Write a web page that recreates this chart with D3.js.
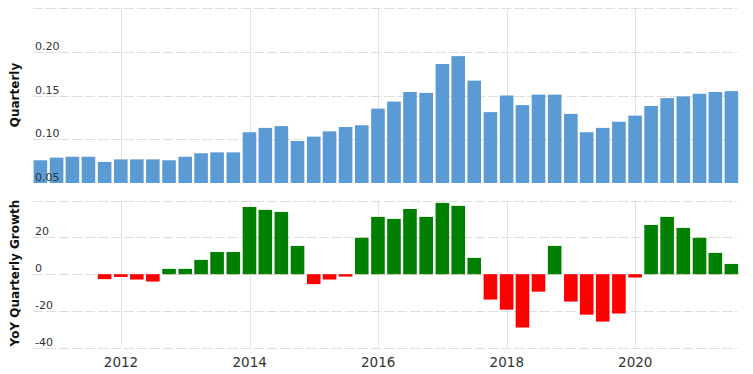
<!DOCTYPE html>
<html>
<head>
<meta charset="utf-8">
<script src="https://cdn.jsdelivr.net/npm/d3@7"></script>
<style>
  body { margin: 0; background: #fff; }
  svg { display: block; font-family: "DejaVu Sans", Verdana, sans-serif; }
</style>
</head>
<body>
<script>
// quarter end dates
var quarters = [
  '2010-09-30', '2010-12-31',
  '2011-03-31', '2011-06-30', '2011-09-30', '2011-12-31',
  '2012-03-31', '2012-06-30', '2012-09-30', '2012-12-31',
  '2013-03-31', '2013-06-30', '2013-09-30', '2013-12-31',
  '2014-03-31', '2014-06-30', '2014-09-30', '2014-12-31',
  '2015-03-31', '2015-06-30', '2015-09-30', '2015-12-31',
  '2016-03-31', '2016-06-30', '2016-09-30', '2016-12-31',
  '2017-03-31', '2017-06-30', '2017-09-30', '2017-12-31',
  '2018-03-31', '2018-06-30', '2018-09-30', '2018-12-31',
  '2019-03-31', '2019-06-30', '2019-09-30', '2019-12-31',
  '2020-03-31', '2020-06-30', '2020-09-30', '2020-12-31',
  '2021-03-31', '2021-06-30'
];

var quarterly = [
  0.076, 0.079, 0.080, 0.080,
  0.074, 0.077, 0.077, 0.077,
  0.076, 0.080, 0.084, 0.085,
  0.085, 0.108, 0.113, 0.115,
  0.098, 0.103, 0.109, 0.114,
  0.116, 0.135, 0.143, 0.154,
  0.153, 0.186, 0.195, 0.167,
  0.131, 0.150, 0.139, 0.151,
  0.151, 0.129, 0.108, 0.113,
  0.120, 0.127, 0.138, 0.147,
  0.149, 0.152, 0.154, 0.155
];

// YoY growth, %
var growth = [
  null, null, null, null,
  -2.7, -1.5, -2.9, -4.0,
  2.9, 2.9, 7.8, 12.1,
  12.1, 36.6, 35.0, 33.9,
  15.4, -5.4, -2.9, -1.3,
  19.8, 31.2, 30.1, 35.5,
  31.2, 38.8, 37.2, 8.9,
  -13.8, -19.3, -29.0, -9.5,
  15.4, -14.9, -22.0, -25.8,
  -21.4, -1.8, 26.8, 31.2,
  25.2, 19.8, 11.6, 5.6
];

var topTicks = [0.05, 0.10, 0.15, 0.20];
var topGrid = [0.10, 0.15, 0.20, 0.25];
var growthTicks = [-40, -20, 0, 20];
var growthGrid = [-40, -20, 0, 20, 40];
var yearTicks = ['2012', '2014', '2016', '2018', '2020'];

var w = 753;
var h = 374;
var left = 33, right = 740, gridRight = 737;
var barW = 13.6;

var parse = d3.timeParse('%Y-%m-%d');

var topData = quarters.map(function(q, i) {
  return {date: parse(q), value: quarterly[i]};
});
var growthData = [];
quarters.forEach(function(q, i) {
  if (growth[i] !== null) {
    growthData.push({date: parse(q), value: growth[i]});
  }
});

var svg = d3.select('body')
              .append('svg')
              .attr('width', w)
              .attr('height', h);

var x = d3.scaleTime()
    .domain([parse('2010-08-19'), parse('2021-08-18')])
    .range([left, right]);

var yTop = d3.scaleLinear().domain([0.05, 0.25]).range([183, 8]);
var yBot = d3.scaleLinear().domain([-40, 40]).range([347.7, 200.7]);

var gridColor = '#dedede';

// vertical year lines
var years = yearTicks.map(function(y) { return parse(y + '-01-01'); });
[[yTop, 0.05, 0.25], [yBot, -40, 40]].forEach(function(p) {
  svg.append('g').selectAll('line')
      .data(years)
      .enter()
      .append('line')
      .attr('x1', function(d) { return Math.round(x(d)) + 0.5; })
      .attr('x2', function(d) { return Math.round(x(d)) + 0.5; })
      .attr('y1', p[0](p[1]))
      .attr('y2', p[0](p[2]))
      .attr('stroke', '#e3e3e3')
      .attr('stroke-width', 1);
});

// horizontal dashed grid
function hgrid(scale, values) {
  svg.append('g').selectAll('line')
      .data(values)
      .enter()
      .append('line')
      .attr('x1', left)
      .attr('x2', gridRight)
      .attr('y1', function(d) { return Math.round(scale(d)) + 0.5; })
      .attr('y2', function(d) { return Math.round(scale(d)) + 0.5; })
      .attr('stroke', gridColor)
      .attr('stroke-dasharray', '10,3');
}
hgrid(yTop, topGrid);
hgrid(yBot, growthGrid);

// top bars
svg.append('g').selectAll('rect')
    .data(topData)
    .enter()
    .append('rect')
    .attr('x', function(d) { return x(d.date) - barW / 2; })
    .attr('y', function(d) { return yTop(d.value); })
    .attr('width', barW)
    .attr('height', function(d) { return yTop(0.05) - yTop(d.value); })
    .attr('fill', '#5b9bd5');

// growth bars
svg.append('g').selectAll('rect')
    .data(growthData)
    .enter()
    .append('rect')
    .attr('x', function(d) { return x(d.date) - barW / 2; })
    .attr('y', function(d) { return d.value >= 0 ? yBot(d.value) : yBot(0); })
    .attr('width', barW)
    .attr('height', function(d) { return Math.abs(yBot(d.value) - yBot(0)); })
    .attr('fill', function(d) { return d.value >= 0 ? '#008000' : '#ff0000'; });

// tick labels (inside plot, above grid line)
var fmt = d3.format('.2f');
svg.append('g').selectAll('text')
    .data(topTicks)
    .enter()
    .append('text')
    .attr('x', 35)
    .attr('y', function(d) { return yTop(d) - 2; })
    .attr('font-size', 11)
    .attr('fill', '#333')
    .text(function(d) { return fmt(d); });

svg.append('g').selectAll('text')
    .data(growthTicks)
    .enter()
    .append('text')
    .attr('x', 35)
    .attr('y', function(d) { return yBot(d) - 2; })
    .attr('font-size', 11)
    .attr('fill', '#333')
    .text(function(d) { return d; });

// year labels
svg.append('g').selectAll('text')
    .data(years)
    .enter()
    .append('text')
    .attr('x', function(d) { return x(d); })
    .attr('y', 367)
    .attr('text-anchor', 'middle')
    .attr('font-size', 13.5)
    .attr('fill', '#333')
    .text(function(d, i) { return yearTicks[i]; });

// axis titles
svg.append('text')
    .attr('transform', 'translate(19,95) rotate(-90)')
    .attr('text-anchor', 'middle')
    .attr('font-size', 12)
    .attr('font-weight', 'bold')
    .attr('fill', '#111')
    .text('Quarterly');

svg.append('text')
    .attr('transform', 'translate(19,273) rotate(-90)')
    .attr('text-anchor', 'middle')
    .attr('font-size', 12)
    .attr('font-weight', 'bold')
    .attr('fill', '#111')
    .text('YoY Quarterly Growth');
</script>
</body>
</html>
